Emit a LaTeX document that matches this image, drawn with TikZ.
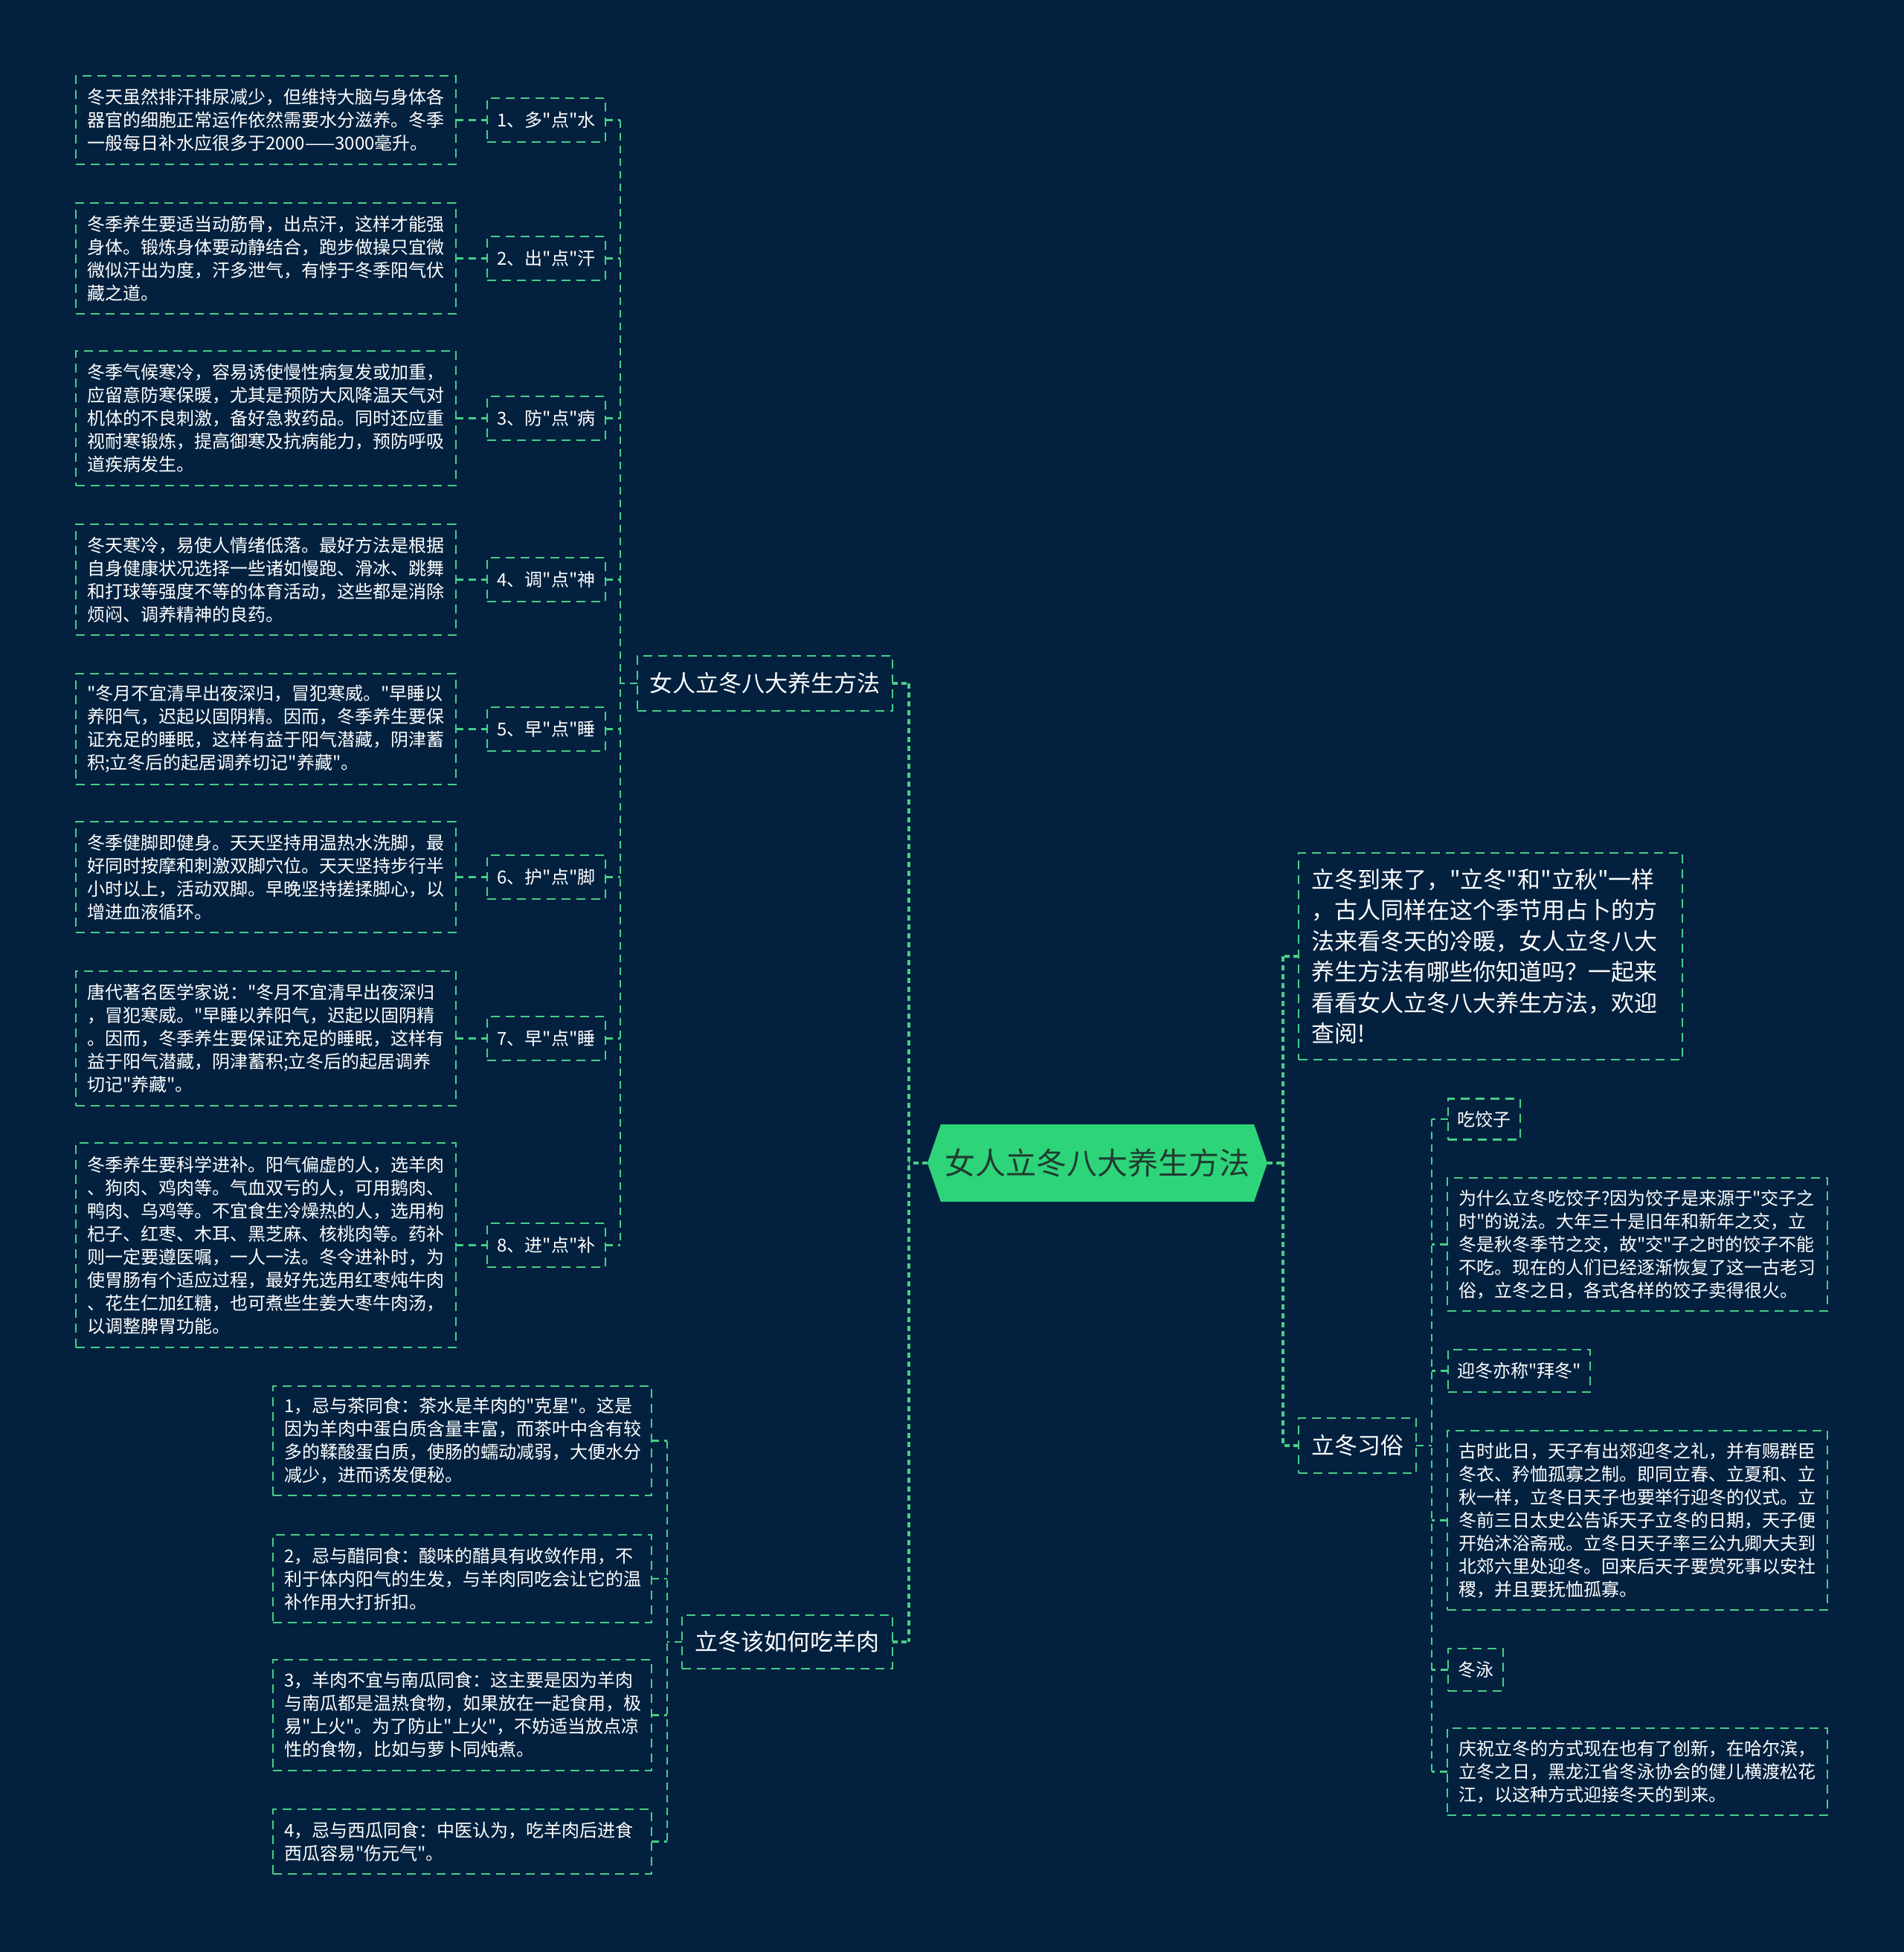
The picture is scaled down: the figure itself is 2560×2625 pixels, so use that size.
\documentclass[tikz,border=0pt]{standalone}
\usepackage{fontspec}
\newfontfamily\cjk{Noto Sans CJK SC}
\usetikzlibrary{shapes.symbols}
\definecolor{bg}{HTML}{03213F}
\definecolor{lineG}{HTML}{46CF86}
\definecolor{rootG}{HTML}{2ED47A}
\definecolor{rootT}{HTML}{1F3B30}
\begin{document}
\begin{tikzpicture}[x=0.5pt,y=-0.5pt,
  every node/.style={inner sep=0pt, outer sep=0pt},
  dbox/.style={draw=lineG, line width=1.1pt, dash pattern=on 6pt off 4pt, text=white, align=left,
    font=\cjk\fontsize{12pt}{15.5pt}\selectfont, text width=240.5pt, minimum width=255.5pt},
  lbox/.style={draw=lineG, line width=1.1pt, dash pattern=on 6pt off 4pt, text=white, align=center,
    font=\cjk\fontsize{12pt}{15.5pt}\selectfont},
  bbox/.style={lbox, font=\cjk\fontsize{15.5pt}{20.75pt}\selectfont},
  conn/.style={draw=lineG, line width=1.1pt, dash pattern=on 5pt off 3.5pt},
  mconn/.style={draw=lineG, line width=1.8pt, dash pattern=on 3.5pt off 2.5pt},
]
\useasboundingbox[fill=bg] (0,0) rectangle (2560,2625);

% root
\node[shape=signal, signal to=east and west, signal pointer angle=142, fill=rootG, text=rootT,
  minimum width=228.5pt, minimum height=52pt, font=\cjk\fontsize{20.5pt}{24pt}\selectfont] (root) at (1475.5,1564) {女人立冬八大养生方法};

% buses
\coordinate (busA) at (1222,0);
\coordinate (busB) at (1725,0);
\coordinate (busL) at (834,0);
\coordinate (busM) at (897,0);
\coordinate (busR) at (1925,0);

% branch 1
\node[bbox, minimum width=171.5pt, minimum height=37pt] (b1) at (1028.5,919) {女人立冬八大养生方法};

\node[dbox, minimum height=59.5pt] (d1) at (357.5,161.5) {冬天虽然排汗排尿减少，但维持大脑与身体各\\器官的细胞正常运作依然需要水分滋养。冬季\\一般每日补水应很多于2000——3000毫升。};
\node[dbox, minimum height=74.5pt] (d2) at (357.5,347.5) {冬季养生要适当动筋骨，出点汗，这样才能强\\身体。锻炼身体要动静结合，跑步做操只宜微\\微似汗出为度，汗多泄气，有悖于冬季阳气伏\\藏之道。};
\node[dbox, minimum height=90.5pt] (d3) at (357.5,562.5) {冬季气候寒冷，容易诱使慢性病复发或加重，\\应留意防寒保暖，尤其是预防大风降温天气对\\机体的不良刺激，备好急救药品。同时还应重\\视耐寒锻炼，提高御寒及抗病能力，预防呼吸\\道疾病发生。};
\node[dbox, minimum height=74.5pt] (d4) at (357.5,779.5) {冬天寒冷，易使人情绪低落。最好方法是根据\\自身健康状况选择一些诸如慢跑、滑冰、跳舞\\和打球等强度不等的体育活动，这些都是消除\\烦闷、调养精神的良药。};
\node[dbox, minimum height=74.5pt] (d5) at (357.5,980.5) {"冬月不宜清早出夜深归，冒犯寒威。"早睡以\\养阳气，迟起以固阴精。因而，冬季养生要保\\证充足的睡眠，这样有益于阳气潜藏，阴津蓄\\积;立冬后的起居调养切记"养藏"。};
\node[dbox, minimum height=74.5pt] (d6) at (357.5,1179.5) {冬季健脚即健身。天天坚持用温热水洗脚，最\\好同时按摩和刺激双脚穴位。天天坚持步行半\\小时以上，活动双脚。早晚坚持搓揉脚心，以\\增进血液循环。};
\node[dbox, minimum height=90.5pt] (d7) at (357.5,1396.5) {唐代著名医学家说："冬月不宜清早出夜深归\\，冒犯寒威。"早睡以养阳气，迟起以固阴精\\。因而，冬季养生要保证充足的睡眠，这样有\\益于阳气潜藏，阴津蓄积;立冬后的起居调养\\切记"养藏"。};
\node[dbox, minimum height=137.5pt] (d8) at (357.5,1674.5) {冬季养生要科学进补。阳气偏虚的人，选羊肉\\、狗肉、鸡肉等。气血双亏的人，可用鹅肉、\\鸭肉、乌鸡等。不宜食生冷燥热的人，选用枸\\杞子、红枣、木耳、黑芝麻、核桃肉等。药补\\则一定要遵医嘱，一人一法。冬令进补时，为\\使胃肠有个适应过程，最好先选用红枣炖牛肉\\、花生仁加红糖，也可煮些生姜大枣牛肉汤，\\以调整脾胃功能。};

\node[lbox, minimum width=79.5pt, minimum height=29.5pt] (l1) at (734.5,161.5) {1、多"点"水};
\node[lbox, minimum width=79.5pt, minimum height=29.5pt] (l2) at (734.5,347.5) {2、出"点"汗};
\node[lbox, minimum width=79.5pt, minimum height=29.5pt] (l3) at (734.5,562.5) {3、防"点"病};
\node[lbox, minimum width=79.5pt, minimum height=29.5pt] (l4) at (734.5,779.5) {4、调"点"神};
\node[lbox, minimum width=79.5pt, minimum height=29.5pt] (l5) at (734.5,980.5) {5、早"点"睡};
\node[lbox, minimum width=79.5pt, minimum height=29.5pt] (l6) at (734.5,1179.5) {6、护"点"脚};
\node[lbox, minimum width=79.5pt, minimum height=29.5pt] (l7) at (734.5,1396.5) {7、早"点"睡};
\node[lbox, minimum width=79.5pt, minimum height=29.5pt] (l8) at (734.5,1674.5) {8、进"点"补};

\foreach \i in {1,...,8} {
  \draw[conn] (d\i.east) -- (l\i.west);
  \draw[conn] (l\i.east) -- (l\i.east -| busL);
}
\draw[conn] (l1.east -| busL) -- (l8.east -| busL);
\draw[conn] (b1.west) -- (b1.west -| busL);

% branch 2
\node[bbox, minimum width=141.5pt, minimum height=36pt] (b2) at (1058.5,2208) {立冬该如何吃羊肉};
\node[dbox, text width=239.5pt, minimum width=254.5pt, minimum height=73.5pt] (c1) at (621.5,1937.5) {1，忌与茶同食：茶水是羊肉的"克星"。这是\\因为羊肉中蛋白质含量丰富，而茶叶中含有较\\多的鞣酸蛋白质，使肠的蠕动减弱，大便水分\\减少，进而诱发便秘。};
\node[dbox, text width=239.5pt, minimum width=254.5pt, minimum height=59pt] (c2) at (621.5,2123) {2，忌与醋同食：酸味的醋具有收敛作用，不\\利于体内阳气的生发，与羊肉同吃会让它的温\\补作用大打折扣。};
\node[dbox, text width=239.5pt, minimum width=254.5pt, minimum height=74.5pt] (c3) at (621.5,2306.5) {3，羊肉不宜与南瓜同食：这主要是因为羊肉\\与南瓜都是温热食物，如果放在一起食用，极\\易"上火"。为了防止"上火"，不妨适当放点凉\\性的食物，比如与萝卜同炖煮。};
\node[dbox, text width=239.5pt, minimum width=254.5pt, minimum height=43.5pt] (c4) at (621.5,2476.5) {4，忌与西瓜同食：中医认为，吃羊肉后进食\\西瓜容易"伤元气"。};
\foreach \i in {1,...,4} {
  \draw[conn] (c\i.east) -- (c\i.east -| busM);
}
\draw[conn] (c1.east -| busM) -- (c4.east -| busM);
\draw[conn] (b2.west) -- (b2.west -| busM);

% root left bus
\draw[mconn] (b1.east) -- (b1.east -| busA);
\draw[mconn] (b2.east) -- (b2.east -| busA);
\draw[mconn] (b1.east -| busA) -- (b2.east -| busA);
\draw[mconn] (root.west) -- (root.west -| busA);

% right side
\node[dbox, font=\cjk\fontsize{15.5pt}{20.75pt}\selectfont, text width=241pt, minimum width=258pt, minimum height=139pt] (intro) at (2004,1286) {立冬到来了，"立冬"和"立秋"一样\\，古人同样在这个季节用占卜的方\\法来看冬天的冷暖，女人立冬八大\\养生方法有哪些你知道吗？一起来\\看看女人立冬八大养生方法，欢迎\\查阅!};
\node[bbox, minimum width=79pt, minimum height=37pt] (b3) at (1825,1944) {立冬习俗};
\draw[mconn] (root.east) -- (root.east -| busB);
\draw[mconn] (intro.west) -- (intro.west -| busB);
\draw[mconn] (b3.west) -- (b3.west -| busB);
\draw[mconn] (intro.west -| busB) -- (b3.west -| busB);

\node[lbox, minimum width=48.5pt, minimum height=27.5pt] (r1) at (1995.5,1505) {吃饺子};
\node[dbox, minimum height=89.5pt] (r2) at (2201.5,1673.5) {为什么立冬吃饺子?因为饺子是来源于"交子之\\时"的说法。大年三十是旧年和新年之交，立\\冬是秋冬季节之交，故"交"子之时的饺子不能\\不吃。现在的人们已经逐渐恢复了这一古老习\\俗，立冬之日，各式各样的饺子卖得很火。};
\node[lbox, minimum width=95.5pt, minimum height=28.5pt] (r3) at (2042.5,1843.5) {迎冬亦称"拜冬"};
\node[dbox, minimum height=120.5pt] (r4) at (2201.5,2044.5) {古时此日，天子有出郊迎冬之礼，并有赐群臣\\冬衣、矜恤孤寡之制。即同立春、立夏和、立\\秋一样，立冬日天子也要举行迎冬的仪式。立\\冬前三日太史公告诉天子立冬的日期，天子便\\开始沐浴斋戒。立冬日天子率三公九卿大夫到\\北郊六里处迎冬。回来后天子要赏死事以安社\\稷，并且要抚恤孤寡。};
\node[lbox, minimum width=37pt, minimum height=28.5pt] (r5) at (1984,2245.5) {冬泳};
\node[dbox, minimum height=58.5pt] (r6) at (2201.5,2382.5) {庆祝立冬的方式现在也有了创新，在哈尔滨，\\立冬之日，黑龙江省冬泳协会的健儿横渡松花\\江，以这种方式迎接冬天的到来。};
\foreach \i in {1,...,6} {
  \draw[conn] (r\i.west) -- (r\i.west -| busR);
}
\draw[conn] (r1.west -| busR) -- (r6.west -| busR);
\draw[conn] (b3.east) -- (b3.east -| busR);
\end{tikzpicture}
\end{document}
